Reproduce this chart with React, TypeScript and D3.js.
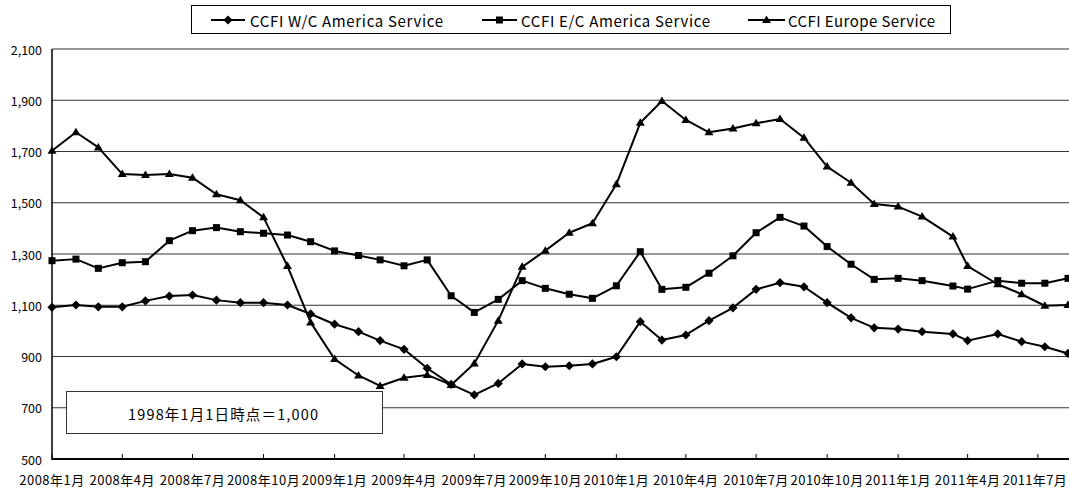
import React from "react";
import * as d3 from "d3";

const dates: string[] = [
  "2008-01-01", "2008-02-01", "2008-03-01", "2008-04-01", "2008-05-01", "2008-06-01",
  "2008-07-01", "2008-08-01", "2008-09-01", "2008-10-01", "2008-11-01", "2008-12-01",
  "2009-01-01", "2009-02-01", "2009-03-01", "2009-04-01", "2009-05-01", "2009-06-01",
  "2009-07-01", "2009-08-01", "2009-09-01", "2009-10-01", "2009-11-01", "2009-12-01",
  "2010-01-01", "2010-02-01", "2010-03-01", "2010-04-01", "2010-05-01", "2010-06-01",
  "2010-07-01", "2010-08-01", "2010-09-01", "2010-10-01", "2010-11-01", "2010-12-01",
  "2011-01-01", "2011-02-01", "2011-03-13", "2011-04-01", "2011-05-10", "2011-06-10",
  "2011-07-10", "2011-08-09",
];

const wcAmerica: number[] = [
  1092, 1101, 1094, 1094, 1117, 1136, 1140, 1120, 1110, 1110, 1101, 1066,
  1026, 997, 962, 928, 854, 791, 750, 795, 871, 860, 864, 871,
  899, 1036, 964, 984, 1040, 1090, 1162, 1188, 1172, 1110, 1051, 1012,
  1007, 997, 988, 962, 988, 958, 938, 912,
];

const ecAmerica: number[] = [
  1274, 1280, 1244, 1266, 1270, 1352, 1391, 1403, 1387, 1381, 1374, 1348,
  1312, 1294, 1277, 1254, 1277, 1137, 1072, 1123, 1196, 1166, 1143, 1127,
  1176, 1309, 1162, 1170, 1225, 1293, 1383, 1443, 1409, 1329, 1260, 1201,
  1205, 1196, 1175, 1163, 1196, 1186, 1186, 1205,
];

const europe: number[] = [
  1703, 1775, 1716, 1612, 1608, 1612, 1598, 1533, 1510, 1443, 1253, 1033,
  890, 826, 785, 817, 828, 789, 873, 1040, 1250, 1313, 1383, 1420,
  1572, 1812, 1897, 1823, 1775, 1790, 1810, 1827, 1754, 1641, 1578, 1495,
  1485, 1446, 1368, 1253, 1182, 1143, 1098, 1101,
];

const seriesNames: string[] = [
  "CCFI W/C America Service",
  "CCFI E/C America Service",
  "CCFI Europe Service",
];

const xTickDates: string[] = [
  "2008-01-01", "2008-04-01", "2008-07-01", "2008-10-01",
  "2009-01-01", "2009-04-01", "2009-07-01", "2009-10-01",
  "2010-01-01", "2010-04-01", "2010-07-01", "2010-10-01",
  "2011-01-01", "2011-04-01", "2011-07-01",
];
const xTickLabels: string[] = [
  "2008年1月", "2008年4月", "2008年7月", "2008年10月",
  "2009年1月", "2009年4月", "2009年7月", "2009年10月",
  "2010年1月", "2010年4月", "2010年7月", "2010年10月",
  "2011年1月", "2011年4月", "2011年7月",
];
const yTicks: number[] = [500, 700, 900, 1100, 1300, 1500, 1700, 1900, 2100];
const noteText = "1998年1月1日時点＝1,000";

const W = 1069;
const H = 490;
const FONT = "'Noto Sans CJK JP', 'Noto Sans', sans-serif";

function Marker({ kind, x, y }: { kind: string; x: number; y: number }) {
  if (kind === "diamond") {
    const r = 4.6;
    return <path d={`M${x},${y - r}L${x + r},${y}L${x},${y + r}L${x - r},${y}Z`} fill="#000" />;
  }
  if (kind === "square") {
    const s = 7;
    return <rect x={x - s / 2} y={y - s / 2} width={s} height={s} fill="#000" />;
  }
  const h = 7.5;
  const w = 9;
  return <path d={`M${x},${y - h * 0.6}L${x + w / 2},${y + h * 0.4}L${x - w / 2},${y + h * 0.4}Z`} fill="#000" />;
}

export default function App() {
  const parse = d3.timeParse("%Y-%m-%d");
  const xDates = dates.map((d) => parse(d) as Date);
  const x = d3.scaleTime().domain([xDates[0], xDates[xDates.length - 1]]).range([52, 1068]);
  const y = d3.scaleLinear().domain([500, 2100]).range([459, 49]);
  const fmt = d3.format(",");

  const series = [
    { name: seriesNames[0], values: wcAmerica, kind: "diamond" },
    { name: seriesNames[1], values: ecAmerica, kind: "square" },
    { name: seriesNames[2], values: europe, kind: "triangle" },
  ];

  const line = d3
    .line<number>()
    .x((_, i) => x(xDates[i]))
    .y((v) => y(v));

  const legendPos = [
    { x1: 211, x2: 245, tx: 250, tl: 193 },
    { x1: 482, x2: 517, tx: 521, tl: 189 },
    { x1: 748, x2: 785, tx: 788, tl: 147 },
  ];

  return (
    <svg width={W} height={H} style={{ position: "absolute", left: 0, top: 0, background: "#fff" }} fontFamily={FONT}>
      <rect x={0} y={0} width={W} height={H} fill="#fff" />
      {yTicks.map((t) => (
        <line key={t} x1={52} x2={1069} y1={y(t)} y2={y(t)} stroke="#333" strokeWidth={1} />
      ))}
      {yTicks.map((t) => (
        <text key={"l" + t} x={42} y={y(t)} textAnchor="end" dominantBaseline="central" fontSize={12.5} fill="#000">
          {fmt(t)}
        </text>
      ))}
      <rect x={66.5} y={391.5} width={316} height={42} fill="#fff" stroke="#333" strokeWidth={1} />
      <text x={128} y={413} dominantBaseline="central" fontSize={14.5} textLength={190} lengthAdjust="spacing" fill="#000">
        {noteText}
      </text>
      <line x1={52} x2={52} y1={49} y2={460} stroke="#000" strokeWidth={1.5} />
      <line x1={52} x2={1069} y1={459} y2={459} stroke="#000" strokeWidth={2} />
      {xTickDates.map((d, i) => {
        const xx = x(parse(d) as Date);
        const last = i === xTickDates.length - 1;
        return (
          <g key={d}>
            <line x1={xx} x2={xx} y1={459} y2={454} stroke="#000" strokeWidth={1} />
            <text
              x={last ? 1067 : xx}
              y={479}
              textAnchor={last ? "end" : "middle"}
              dominantBaseline="central"
              fontSize={13}
              letterSpacing={last ? 0.3 : 0.5}
              fill="#000"
            >
              {xTickLabels[i]}
            </text>
          </g>
        );
      })}
      {series.map((s) => (
        <g key={s.name}>
          <path d={line(s.values) || ""} fill="none" stroke="#000" strokeWidth={2} strokeLinejoin="round" />
          {s.values.map((v, i) => (
            <Marker key={i} kind={s.kind} x={x(xDates[i])} y={y(v)} />
          ))}
        </g>
      ))}
      <rect x={191.5} y={5.5} width={759} height={28} fill="#fff" stroke="#000" strokeWidth={1} />
      {series.map((s, i) => {
        const p = legendPos[i];
        return (
          <g key={"lg" + i}>
            <line x1={p.x1} x2={p.x2} y1={20} y2={20} stroke="#000" strokeWidth={2} />
            <Marker kind={s.kind} x={(p.x1 + p.x2) / 2} y={20} />
            <text x={p.tx} y={20.5} dominantBaseline="central" fontSize={15} textLength={p.tl} lengthAdjust="spacing" fill="#000">
              {s.name}
            </text>
          </g>
        );
      })}
    </svg>
  );
}
